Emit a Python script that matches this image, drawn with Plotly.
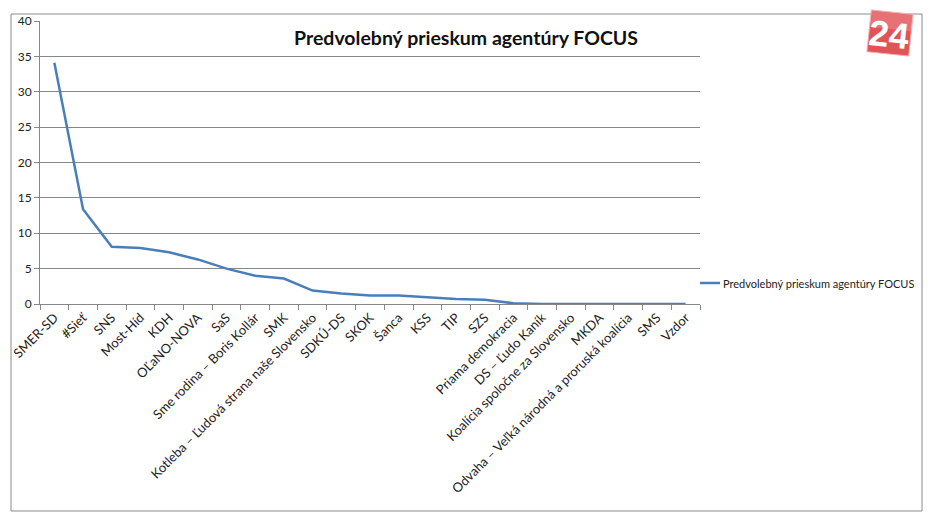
import math
import plotly.graph_objects as go

categories = ["SMER-SD", "#Sieť", "SNS", "Most-Híd", "KDH", "OĽaNO-NOVA", "SaS",
              "Sme rodina – Boris Kollár", "SMK", "Kotleba – Ľudová strana naše Slovensko",
              "SDKÚ-DS", "SKOK", "Šanca", "KSS", "TIP", "SZS", "Priama demokracia",
              "DS – Ľudo Kaník", "Koalícia spoločne za Slovensko", "MKDA",
              "Odvaha – Veľká národná a proruská koalícia", "SMS", "Vzdor"]
values = [34.1, 13.4, 8.1, 7.9, 7.3, 6.3, 5.0, 4.0, 3.6, 1.9, 1.5, 1.2, 1.2, 0.9,
          0.7, 0.6, 0.1, 0.0, 0.0, 0.0, 0.0, 0.0, 0.0]
series_name = "Predvolebný prieskum agentúry FOCUS"
title_text = "Predvolebný prieskum agentúry FOCUS"
y_ticks = [0, 5, 10, 15, 20, 25, 30, 35, 40]

# page offset (default body margin)
OFF = 8
SW, SH = 931, 527
W, H = SW - OFF, SH - 2 * OFF
# plot area in screen coordinates
L, R, T, B = 40, 700, 21, 304

def px(x):
    return (x - L) / (R - L)

def py(y):
    return (B - y) / (B - T)

fig = go.Figure()
fig.add_trace(go.Scatter(
    x=categories, y=values, mode="lines", name=series_name,
    line=dict(color="#4a7ebb", width=2.5), showlegend=False,
))

grid = "#878787"
fig.update_layout(
    width=W, height=H,
    margin=dict(l=L - OFF, r=W - (R - OFF), t=T - OFF, b=H - (B - OFF), pad=0, autoexpand=False),
    paper_bgcolor="white", plot_bgcolor="white",
    font=dict(family="Lato, Carlito, Calibri, sans-serif", size=13, color="#222"),
    showlegend=False,
    xaxis=dict(
        type="category", range=[-0.5, len(categories) - 0.5],
        showgrid=False, showline=True, linecolor=grid, linewidth=1,
        ticks="outside", tickson="boundaries", ticklen=5, tickcolor=grid,
        tickangle=-45, tickfont=dict(size=13, color="#222"), fixedrange=True,
    ),
    yaxis=dict(
        range=[0, 40], tickvals=y_ticks, showgrid=True, gridcolor=grid, gridwidth=1,
        showline=True, linecolor=grid, linewidth=1, ticks="outside", ticklen=5,
        tickcolor=grid, zeroline=False, tickfont=dict(size=12, color="#222"),
        fixedrange=True,
    ),
)

# Title
fig.add_annotation(x=px(466), y=py(38), xref="paper", yref="paper",
                   text="<b>" + title_text + "</b>", showarrow=False,
                   font=dict(size=19.5, color="#111"), xanchor="center", yanchor="middle")

# Legend (drawn manually so it does not move the plot area)
fig.add_shape(type="line", xref="paper", yref="paper",
              x0=px(700), x1=px(720), y0=py(283), y1=py(283),
              line=dict(color="#4a7ebb", width=2.5))
fig.add_annotation(x=px(721), y=py(283), xref="paper", yref="paper",
                   text=series_name, showarrow=False,
                   font=dict(size=11, color="#222"), xanchor="left", yanchor="middle")

# Outer chart border
fig.add_shape(type="rect", xref="paper", yref="paper",
              x0=px(11), x1=px(922), y0=py(511), y1=py(14),
              line=dict(color="#8a8a8a", width=1), layer="below")
# Right edge dark line
fig.add_shape(type="line", xref="paper", yref="paper",
              x0=px(927), x1=px(927), y0=py(518), y1=py(9),
              line=dict(color="#3e4a58", width=3))

# Logo "24" (slightly rotated red tile)
cx, cy, hs, ang = 890, 33, 21, math.radians(6)
def rot(dx, dy):
    return (cx + dx * math.cos(ang) - dy * math.sin(ang),
            cy + dx * math.sin(ang) + dy * math.cos(ang))
corners = [rot(-hs, -hs), rot(hs, -hs), rot(hs, hs), rot(-hs, hs)]
path = "M " + " L ".join(f"{px(x):.5f},{py(y):.5f}" for x, y in corners) + " Z"
fig.add_shape(type="path", xref="paper", yref="paper", path=path,
              fillcolor="#e25358", line=dict(color="#f0b0b0", width=1))
hl = [rot(-hs, -hs), rot(hs, -hs), rot(hs, -4), rot(-hs, -4)]
path2 = "M " + " L ".join(f"{px(x):.5f},{py(y):.5f}" for x, y in hl) + " Z"
fig.add_shape(type="path", xref="paper", yref="paper", path=path2,
              fillcolor="rgba(255,255,255,0.18)", line=dict(width=0))
fig.add_annotation(x=px(889), y=py(34), xref="paper", yref="paper",
                   text="<b>24</b>", showarrow=False, textangle=6,
                   font=dict(size=36, color="white", family="Liberation Sans Narrow, Liberation Sans, Arial"),
                   xanchor="center", yanchor="middle")

fig.write_html("out.html")
